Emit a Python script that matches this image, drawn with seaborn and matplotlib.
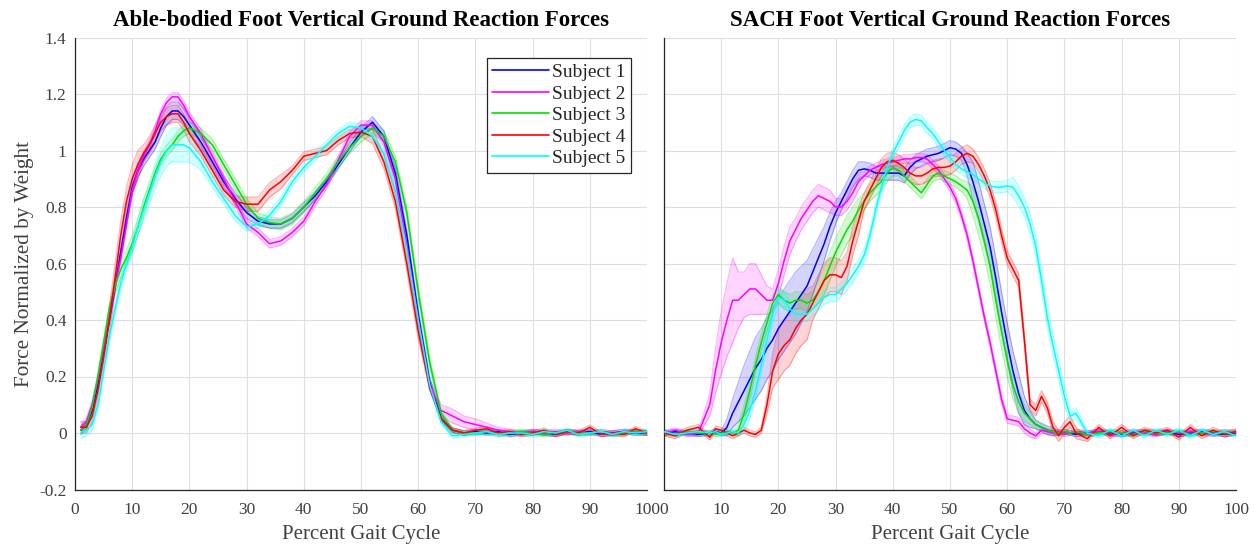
import numpy as np
import pandas as pd
import matplotlib
matplotlib.use("Agg")
import matplotlib.pyplot as plt
import seaborn as sns
from matplotlib.ticker import FuncFormatter

# ---------------- data ----------------
subjects = ["Subject 1", "Subject 2", "Subject 3", "Subject 4", "Subject 5"]
colors = ["#0000ff", "#ff00ff", "#00e000", "#ff0000", "#00ffff"]

titles = ["Able-bodied Foot Vertical Ground Reaction Forces",
          "SACH Foot Vertical Ground Reaction Forces"]
xlabel = "Percent Gait Cycle"
ylabel = "Force Normalized by Weight"

# Able-bodied panel (percent gait cycle grid)
xL = [1, 2, 3, 4, 5, 6, 7, 8, 9, 10,
      11, 12, 13, 14, 15, 16, 17, 18, 19, 20,
      22, 24, 26, 28, 30, 32, 34, 36, 38, 40,
      42, 44, 46, 48, 50, 52, 54, 56, 58, 60,
      62, 64, 66, 68, 70, 72, 74, 76, 78, 80,
      82, 84, 86, 88, 90, 92, 94, 96, 98, 100]

ab_s1 = [0.01, 0.03, 0.08, 0.17, 0.28, 0.40, 0.52, 0.64, 0.76, 0.87,
         0.93, 0.97, 1.00, 1.03, 1.08, 1.12, 1.14, 1.14, 1.12, 1.09,
         1.03, 0.96, 0.89, 0.83, 0.78, 0.75, 0.74, 0.74, 0.76, 0.80,
         0.84, 0.89, 0.95, 1.01, 1.065, 1.10, 1.05, 0.92, 0.70, 0.42,
         0.18, 0.05, 0.01, 0.0, 0.005, 0.0, 0.005, -0.005, 0.0, 0.005,
         0.0, -0.005, 0.005, 0.0, 0.005, -0.005, 0.0, 0.005, 0.0, 0.0]
ab_s2 = [0.02, 0.04, 0.10, 0.19, 0.30, 0.41, 0.52, 0.62, 0.74, 0.86,
         0.93, 0.98, 1.02, 1.07, 1.13, 1.17, 1.19, 1.19, 1.16, 1.12,
         1.06, 0.98, 0.90, 0.82, 0.74, 0.71, 0.67, 0.68, 0.71, 0.75,
         0.82, 0.88, 0.965, 1.05, 1.09, 1.09, 1.03, 0.90, 0.67, 0.40,
         0.17, 0.08, 0.06, 0.04, 0.03, 0.02, 0.01, 0.005, 0.0, 0.005,
         0.0, 0.005, 0.0, 0.005, 0.0, 0.005, 0.0, 0.005, 0.005, 0.0]
ab_s3 = [0.01, 0.03, 0.09, 0.20, 0.32, 0.44, 0.52, 0.58, 0.62, 0.67,
         0.73, 0.80, 0.86, 0.92, 0.97, 1.00, 1.02, 1.05, 1.07, 1.08,
         1.06, 1.02, 0.95, 0.88, 0.81, 0.76, 0.745, 0.74, 0.76, 0.80,
         0.85, 0.90, 0.96, 1.01, 1.05, 1.08, 1.05, 0.96, 0.78, 0.50,
         0.25, 0.07, 0.01, 0.0, 0.0, 0.005, -0.005, 0.0, 0.005, 0.0,
         -0.005, 0.0, 0.005, 0.0, 0.0, 0.005, -0.005, 0.0, 0.005, 0.0]
ab_s4 = [0.02, 0.02, 0.06, 0.15, 0.27, 0.40, 0.55, 0.70, 0.82, 0.90,
         0.95, 0.99, 1.02, 1.06, 1.10, 1.12, 1.13, 1.13, 1.10, 1.06,
         1.00, 0.93, 0.86, 0.82, 0.81, 0.81, 0.86, 0.89, 0.93, 0.98,
         0.99, 1.00, 1.035, 1.06, 1.065, 1.05, 0.96, 0.82, 0.60, 0.36,
         0.16, 0.05, 0.01, 0.0, 0.01, 0.015, 0.0, 0.005, -0.005, 0.0,
         0.01, -0.005, 0.005, 0.0, 0.02, -0.005, 0.0, -0.005, 0.015, 0.0]
ab_s5 = [0.0, 0.01, 0.03, 0.10, 0.22, 0.34, 0.44, 0.53, 0.60, 0.66,
         0.73, 0.79, 0.85, 0.91, 0.96, 1.00, 1.02, 1.02, 1.02, 1.01,
         0.96, 0.89, 0.83, 0.77, 0.73, 0.74, 0.77, 0.82, 0.89, 0.94,
         0.98, 1.02, 1.06, 1.085, 1.08, 1.05, 0.99, 0.86, 0.65, 0.40,
         0.17, 0.04, -0.01, -0.005, 0.0, 0.005, -0.005, 0.0, 0.0, -0.005,
         0.005, 0.0, 0.01, -0.005, 0.0, 0.005, -0.005, 0.005, 0.0, 0.005]

# half-width of shaded bands (able-bodied)
ab_b1 = [0.015, 0.015, 0.015, 0.015, 0.015, 0.015, 0.015, 0.015, 0.025, 0.025,
         0.025, 0.025, 0.025, 0.025, 0.03, 0.03, 0.03, 0.03, 0.03, 0.03,
         0.02, 0.02, 0.02, 0.02, 0.02, 0.015, 0.015, 0.015, 0.015, 0.015,
         0.015, 0.015, 0.015, 0.015, 0.015, 0.02, 0.02, 0.02, 0.02, 0.02,
         0.02, 0.01, 0.008, 0.008, 0.008, 0.008, 0.008, 0.008, 0.008, 0.008,
         0.008, 0.008, 0.008, 0.008, 0.008, 0.008, 0.008, 0.008, 0.008, 0.008]
ab_b2 = [0.015, 0.015, 0.015, 0.015, 0.015, 0.015, 0.015, 0.015, 0.015, 0.015,
         0.015, 0.015, 0.015, 0.015, 0.015, 0.015, 0.015, 0.015, 0.015, 0.015,
         0.015, 0.015, 0.015, 0.015, 0.015, 0.015, 0.015, 0.015, 0.015, 0.015,
         0.015, 0.015, 0.015, 0.015, 0.015, 0.015, 0.015, 0.015, 0.015, 0.015,
         0.02, 0.02, 0.025, 0.02, 0.02, 0.015, 0.01, 0.008, 0.008, 0.008,
         0.008, 0.008, 0.008, 0.008, 0.008, 0.008, 0.008, 0.008, 0.008, 0.008]
ab_b3 = [0.015, 0.015, 0.015, 0.015, 0.015, 0.015, 0.03, 0.03, 0.03, 0.03,
         0.03, 0.03, 0.02, 0.02, 0.02, 0.02, 0.02, 0.02, 0.02, 0.02,
         0.02, 0.02, 0.02, 0.02, 0.02, 0.02, 0.02, 0.02, 0.02, 0.02,
         0.02, 0.02, 0.02, 0.02, 0.02, 0.02, 0.02, 0.02, 0.02, 0.02,
         0.02, 0.01, 0.008, 0.008, 0.008, 0.008, 0.008, 0.008, 0.008, 0.008,
         0.008, 0.008, 0.008, 0.008, 0.008, 0.008, 0.008, 0.008, 0.008, 0.008]
ab_b4 = [0.02, 0.02, 0.02, 0.02, 0.02, 0.05, 0.05, 0.05, 0.05, 0.05,
         0.05, 0.03, 0.03, 0.03, 0.03, 0.03, 0.03, 0.03, 0.03, 0.03,
         0.02, 0.02, 0.02, 0.02, 0.025, 0.025, 0.025, 0.025, 0.015, 0.015,
         0.015, 0.015, 0.015, 0.015, 0.015, 0.025, 0.025, 0.025, 0.025, 0.025,
         0.008, 0.008, 0.008, 0.008, 0.008, 0.008, 0.008, 0.008, 0.008, 0.008,
         0.008, 0.008, 0.008, 0.008, 0.008, 0.008, 0.008, 0.008, 0.008, 0.008]
ab_b5 = [0.02, 0.02, 0.02, 0.02, 0.02, 0.02, 0.02, 0.02, 0.02, 0.02,
         0.03, 0.035, 0.04, 0.045, 0.05, 0.055, 0.06, 0.06, 0.06, 0.05,
         0.03, 0.02, 0.02, 0.02, 0.015, 0.015, 0.015, 0.015, 0.015, 0.015,
         0.015, 0.015, 0.015, 0.015, 0.015, 0.015, 0.015, 0.015, 0.015, 0.015,
         0.015, 0.01, 0.008, 0.008, 0.008, 0.008, 0.008, 0.008, 0.008, 0.008,
         0.008, 0.008, 0.008, 0.008, 0.008, 0.008, 0.008, 0.008, 0.008, 0.008]

# SACH panel
xR = [0, 2, 4, 6,
      8, 9, 10, 11, 12, 13, 14, 15, 16, 17,
      18, 19, 20, 21, 22, 23, 24, 25, 26, 27,
      28, 29, 30, 31, 32, 33, 34, 35, 36, 37,
      38, 39, 40, 41, 42, 43, 44, 45, 46, 47,
      48, 49, 50, 51, 52, 53, 54, 55, 56, 57,
      58, 59, 60, 61, 62, 63, 64, 65, 66, 67,
      68, 69, 70, 71, 72,
      74, 76, 78, 80, 82, 84, 86, 88, 90, 92, 94, 96, 98, 100]

sach_s1 = [0.0, 0.005, 0.0, -0.005,
           0.0, 0.005, 0.0, 0.02, 0.07, 0.11, 0.15, 0.19, 0.23, 0.26,
           0.30, 0.33, 0.37, 0.40, 0.43, 0.46, 0.49, 0.52, 0.57, 0.62,
           0.67, 0.73, 0.78, 0.82, 0.86, 0.90, 0.93, 0.935, 0.93, 0.92,
           0.92, 0.92, 0.92, 0.92, 0.91, 0.94, 0.96, 0.97, 0.98, 0.985,
           0.99, 1.0, 1.01, 1.005, 0.99, 0.95, 0.89, 0.82, 0.74, 0.66,
           0.55, 0.43, 0.32, 0.22, 0.14, 0.08, 0.05, 0.03, 0.02, 0.01,
           0.005, 0.0, 0.005, 0.0, -0.005,
           0.0, 0.005, 0.0, -0.005, 0.0, 0.005, 0.0, 0.005, -0.005, 0.0, 0.005, 0.0, -0.005, 0.0]
sach_s2 = [0.0, 0.01, -0.005, 0.0,
           0.10, 0.22, 0.32, 0.40, 0.47, 0.47, 0.49, 0.51, 0.51, 0.49,
           0.47, 0.47, 0.53, 0.61, 0.68, 0.72, 0.76, 0.79, 0.82, 0.84,
           0.83, 0.82, 0.80, 0.80, 0.82, 0.85, 0.89, 0.91, 0.93, 0.94,
           0.95, 0.955, 0.96, 0.965, 0.97, 0.97, 0.975, 0.975, 0.97, 0.95,
           0.93, 0.90, 0.87, 0.83, 0.77, 0.70, 0.61, 0.51, 0.41, 0.32,
           0.22, 0.12, 0.05, 0.045, 0.04, 0.015, 0.0, -0.01, 0.01, 0.005,
           0.0, 0.005, -0.005, 0.0, 0.005,
           0.0, 0.005, -0.005, 0.0, 0.005, 0.0, -0.005, 0.005, 0.0, 0.005, 0.0, -0.005, 0.005, 0.0]
sach_s3 = [0.0, -0.005, 0.005, 0.0,
           0.0, -0.005, 0.0, 0.005, 0.0, 0.01, 0.07, 0.15, 0.24, 0.32,
           0.39, 0.46, 0.49, 0.47, 0.46, 0.47, 0.47, 0.46, 0.47, 0.50,
           0.54, 0.59, 0.64, 0.68, 0.72, 0.75, 0.79, 0.82, 0.85, 0.87,
           0.89, 0.92, 0.94, 0.93, 0.91, 0.89, 0.87, 0.85, 0.88, 0.91,
           0.92, 0.91, 0.90, 0.89, 0.875, 0.86, 0.82, 0.76, 0.68, 0.59,
           0.47, 0.36, 0.26, 0.17, 0.11, 0.07, 0.05, 0.03, 0.02, 0.01,
           0.005, 0.0, 0.005, 0.0, 0.005,
           -0.005, 0.0, 0.005, 0.0, -0.005, 0.005, 0.0, 0.0, 0.005, -0.005, 0.0, 0.005, 0.0, 0.005]
sach_s4 = [0.0, -0.01, 0.01, 0.02,
           -0.015, 0.015, 0.01, 0.0, -0.01, 0.0, 0.01, 0.0, -0.005, 0.01,
           0.10, 0.22, 0.28, 0.31, 0.33, 0.37, 0.40, 0.42, 0.46, 0.50,
           0.54, 0.56, 0.56, 0.55, 0.59, 0.68, 0.75, 0.82, 0.86, 0.90,
           0.94, 0.96, 0.965, 0.955, 0.94, 0.92, 0.91, 0.91, 0.92, 0.935,
           0.94, 0.94, 0.945, 0.96, 0.98, 0.99, 0.98, 0.95, 0.91, 0.86,
           0.79, 0.70, 0.62, 0.58, 0.54, 0.33, 0.10, 0.08, 0.13, 0.09,
           0.02, -0.01, 0.02, 0.04, 0.0,
           -0.02, 0.02, -0.01, 0.02, -0.01, 0.01, 0.0, 0.01, -0.015, 0.02, -0.01, 0.01, -0.005, 0.005]
sach_s5 = [0.005, -0.005, 0.0, 0.005,
           0.0, 0.005, -0.005, 0.0, 0.005, 0.0, 0.03, 0.08, 0.15, 0.24,
           0.33, 0.42, 0.48, 0.47, 0.44, 0.42, 0.42, 0.42, 0.44, 0.46,
           0.48, 0.49, 0.49, 0.51, 0.53, 0.56, 0.59, 0.63, 0.70, 0.79,
           0.87, 0.94, 0.99, 1.03, 1.07, 1.10, 1.11, 1.105, 1.08, 1.06,
           1.03, 1.0, 0.975, 0.95, 0.935, 0.925, 0.915, 0.90, 0.885, 0.875,
           0.87, 0.87, 0.875, 0.87, 0.84, 0.80, 0.74, 0.66, 0.54, 0.41,
           0.31, 0.22, 0.13, 0.06, 0.07,
           0.0, -0.01, 0.01, -0.01, 0.01, -0.01, 0.01, -0.005, 0.01, -0.01, 0.01, -0.005, 0.005, -0.01]

sach_b1 = [0.008, 0.008, 0.008, 0.008,
           0.008, 0.008, 0.008, 0.03, 0.05, 0.07, 0.09, 0.10, 0.11, 0.11,
           0.11, 0.11, 0.11, 0.11, 0.11, 0.11, 0.10, 0.09, 0.08, 0.07,
           0.06, 0.05, 0.04, 0.03, 0.03, 0.03, 0.03, 0.025, 0.025, 0.025,
           0.025, 0.025, 0.025, 0.025, 0.025, 0.025, 0.025, 0.025, 0.025, 0.025,
           0.025, 0.025, 0.025, 0.025, 0.025, 0.04, 0.07, 0.07, 0.07, 0.07,
           0.07, 0.07, 0.07, 0.07, 0.07, 0.05, 0.03, 0.015, 0.015, 0.015,
           0.015, 0.008, 0.008, 0.008, 0.008,
           0.008, 0.008, 0.008, 0.008, 0.008, 0.008, 0.008, 0.008, 0.008, 0.008, 0.008, 0.008, 0.008, 0.008]
sach_b2 = [0.008, 0.008, 0.008, 0.008,
           0.04, 0.08, 0.11, 0.13, 0.15, 0.10, 0.08, 0.09, 0.09, 0.07,
           0.05, 0.04, 0.05, 0.05, 0.05, 0.04, 0.04, 0.04, 0.04, 0.04,
           0.04, 0.04, 0.03, 0.03, 0.03, 0.03, 0.03, 0.015, 0.015, 0.015,
           0.015, 0.015, 0.015, 0.015, 0.015, 0.015, 0.015, 0.015, 0.015, 0.015,
           0.015, 0.015, 0.015, 0.015, 0.015, 0.015, 0.015, 0.015, 0.015, 0.015,
           0.015, 0.015, 0.015, 0.015, 0.015, 0.015, 0.015, 0.01, 0.01, 0.01,
           0.008, 0.008, 0.008, 0.008, 0.008,
           0.008, 0.008, 0.008, 0.008, 0.008, 0.008, 0.008, 0.008, 0.008, 0.008, 0.008, 0.008, 0.008, 0.008]
sach_b3 = [0.008, 0.008, 0.008, 0.008,
           0.008, 0.008, 0.008, 0.008, 0.008, 0.02, 0.03, 0.03, 0.03, 0.03,
           0.03, 0.03, 0.03, 0.03, 0.03, 0.03, 0.03, 0.03, 0.03, 0.04,
           0.05, 0.05, 0.05, 0.05, 0.05, 0.05, 0.04, 0.03, 0.03, 0.03,
           0.03, 0.03, 0.03, 0.02, 0.02, 0.02, 0.02, 0.02, 0.02, 0.02,
           0.02, 0.02, 0.02, 0.02, 0.02, 0.03, 0.05, 0.06, 0.06, 0.06,
           0.06, 0.06, 0.06, 0.05, 0.04, 0.03, 0.02, 0.015, 0.01, 0.008,
           0.008, 0.008, 0.008, 0.008, 0.008,
           0.008, 0.008, 0.008, 0.008, 0.008, 0.008, 0.008, 0.008, 0.008, 0.008, 0.008, 0.008, 0.008, 0.008]
sach_b4 = [0.01, 0.01, 0.01, 0.01,
           0.01, 0.01, 0.01, 0.01, 0.01, 0.01, 0.01, 0.01, 0.01, 0.01,
           0.03, 0.06, 0.09, 0.09, 0.09, 0.09, 0.09, 0.09, 0.06, 0.06,
           0.06, 0.06, 0.06, 0.06, 0.05, 0.05, 0.05, 0.03, 0.03, 0.03,
           0.03, 0.03, 0.03, 0.03, 0.03, 0.03, 0.03, 0.03, 0.03, 0.03,
           0.03, 0.03, 0.03, 0.03, 0.03, 0.03, 0.025, 0.025, 0.025, 0.025,
           0.025, 0.025, 0.025, 0.025, 0.025, 0.02, 0.02, 0.02, 0.02, 0.02,
           0.02, 0.02, 0.02, 0.02, 0.02,
           0.01, 0.01, 0.01, 0.01, 0.01, 0.01, 0.01, 0.01, 0.01, 0.01, 0.01, 0.01, 0.01, 0.01]
sach_b5 = [0.008, 0.008, 0.008, 0.008,
           0.008, 0.008, 0.008, 0.008, 0.008, 0.008, 0.03, 0.03, 0.03, 0.03,
           0.03, 0.03, 0.03, 0.025, 0.025, 0.025, 0.025, 0.025, 0.025, 0.025,
           0.025, 0.025, 0.025, 0.025, 0.025, 0.025, 0.025, 0.025, 0.02, 0.02,
           0.02, 0.02, 0.02, 0.02, 0.02, 0.02, 0.02, 0.02, 0.02, 0.02,
           0.02, 0.02, 0.02, 0.02, 0.02, 0.02, 0.02, 0.02, 0.02, 0.02,
           0.02, 0.02, 0.02, 0.035, 0.035, 0.035, 0.035, 0.035, 0.035, 0.035,
           0.035, 0.035, 0.035, 0.02, 0.02,
           0.008, 0.008, 0.008, 0.008, 0.008, 0.008, 0.008, 0.008, 0.008, 0.008, 0.008, 0.008, 0.008, 0.008]

xticks = [0, 10, 20, 30, 40, 50, 60, 70, 80, 90, 100]
yticks = [-0.2, 0, 0.2, 0.4, 0.6, 0.8, 1.0, 1.2, 1.4]

# ---------------- style ----------------
sns.set_theme(style="white")
plt.rcParams["font.family"] = ["Liberation Serif", "DejaVu Serif"]
plt.rcParams["axes.unicode_minus"] = False

W, H = 1255, 546
fig = plt.figure(figsize=(W / 100, H / 100), dpi=100)
top_px, bot_px = 37.5, 489.5
axL = fig.add_axes([75 / W, 1 - bot_px / H, (647 - 75) / W, (bot_px - top_px) / H])
axR = fig.add_axes([664 / W, 1 - bot_px / H, (1236 - 664) / W, (bot_px - top_px) / H])

panels = [
    (axL, xL, [ab_s1, ab_s2, ab_s3, ab_s4, ab_s5], [ab_b1, ab_b2, ab_b3, ab_b4, ab_b5]),
    (axR, xR, [sach_s1, sach_s2, sach_s3, sach_s4, sach_s5],
     [sach_b1, sach_b2, sach_b3, sach_b4, sach_b5]),
]

palette = dict(zip(subjects, colors))
ink = "#262626"
tick_ink = "#404040"

for i, (ax, xs, ys, bs) in enumerate(panels):
    xs_a = np.asarray(xs, dtype=float)
    # shaded bands
    for y, b, c in zip(ys, bs, colors):
        y = np.asarray(y, dtype=float)
        b = np.asarray(b, dtype=float)
        ax.fill_between(xs_a, y - b, y + b, color=c, alpha=0.17, lw=0, zorder=2)
        ax.plot(xs_a, y - b, color=c, alpha=0.3, lw=0.8, zorder=2)
        ax.plot(xs_a, y + b, color=c, alpha=0.3, lw=0.8, zorder=2)
    df = pd.DataFrame({
        "pct": np.tile(xs_a, len(subjects)),
        "force": np.concatenate([np.asarray(y, dtype=float) for y in ys]),
        "subject": np.repeat(subjects, len(xs_a)),
    })
    sns.lineplot(data=df, x="pct", y="force", hue="subject", palette=palette,
                 estimator=None, errorbar=None, lw=1.1, ax=ax,
                 legend=(i == 0), zorder=3)

    ax.set_xlim(0, 100)
    ax.set_ylim(-0.2, 1.4)
    ax.set_xticks(xticks)
    ax.set_yticks(yticks)
    ax.yaxis.set_major_formatter(FuncFormatter(lambda v, p: f"{v:g}" if abs(v) > 1e-9 else "0"))
    ax.grid(True, color="#dedede", lw=0.8, zorder=0)
    ax.set_axisbelow(True)
    for s in ["top", "right"]:
        ax.spines[s].set_visible(False)
    for s in ["left", "bottom"]:
        ax.spines[s].set_color(ink)
        ax.spines[s].set_linewidth(0.9)
    ax.tick_params(direction="in", length=4, width=0.8, color=ink,
                   labelcolor=tick_ink, labelsize=12.5)
    ax.tick_params(axis="x", pad=9)
    ax.tick_params(axis="y", pad=6)
    ax.set_xlabel(xlabel, fontsize=15, color=tick_ink, labelpad=5)
    ax.set_title(titles[i], fontsize=16.5, fontweight="bold", color="black", pad=8)

axL.set_ylabel(ylabel, fontsize=15.3, color=tick_ink, labelpad=4)
axR.set_ylabel("")
axR.tick_params(labelleft=False)

leg = axL.legend(loc="upper right", bbox_to_anchor=(0.972, 0.955), borderaxespad=0,
                 fontsize=14, frameon=True, fancybox=False, edgecolor="#262626",
                 framealpha=1, handlelength=2.9, handletextpad=0.15,
                 labelspacing=0.2, borderpad=0.3, title=None)
leg.get_frame().set_linewidth(0.9)
for lh in leg.get_lines():
    lh.set_linewidth(1.2)

fig.savefig("out.png", dpi=100)
